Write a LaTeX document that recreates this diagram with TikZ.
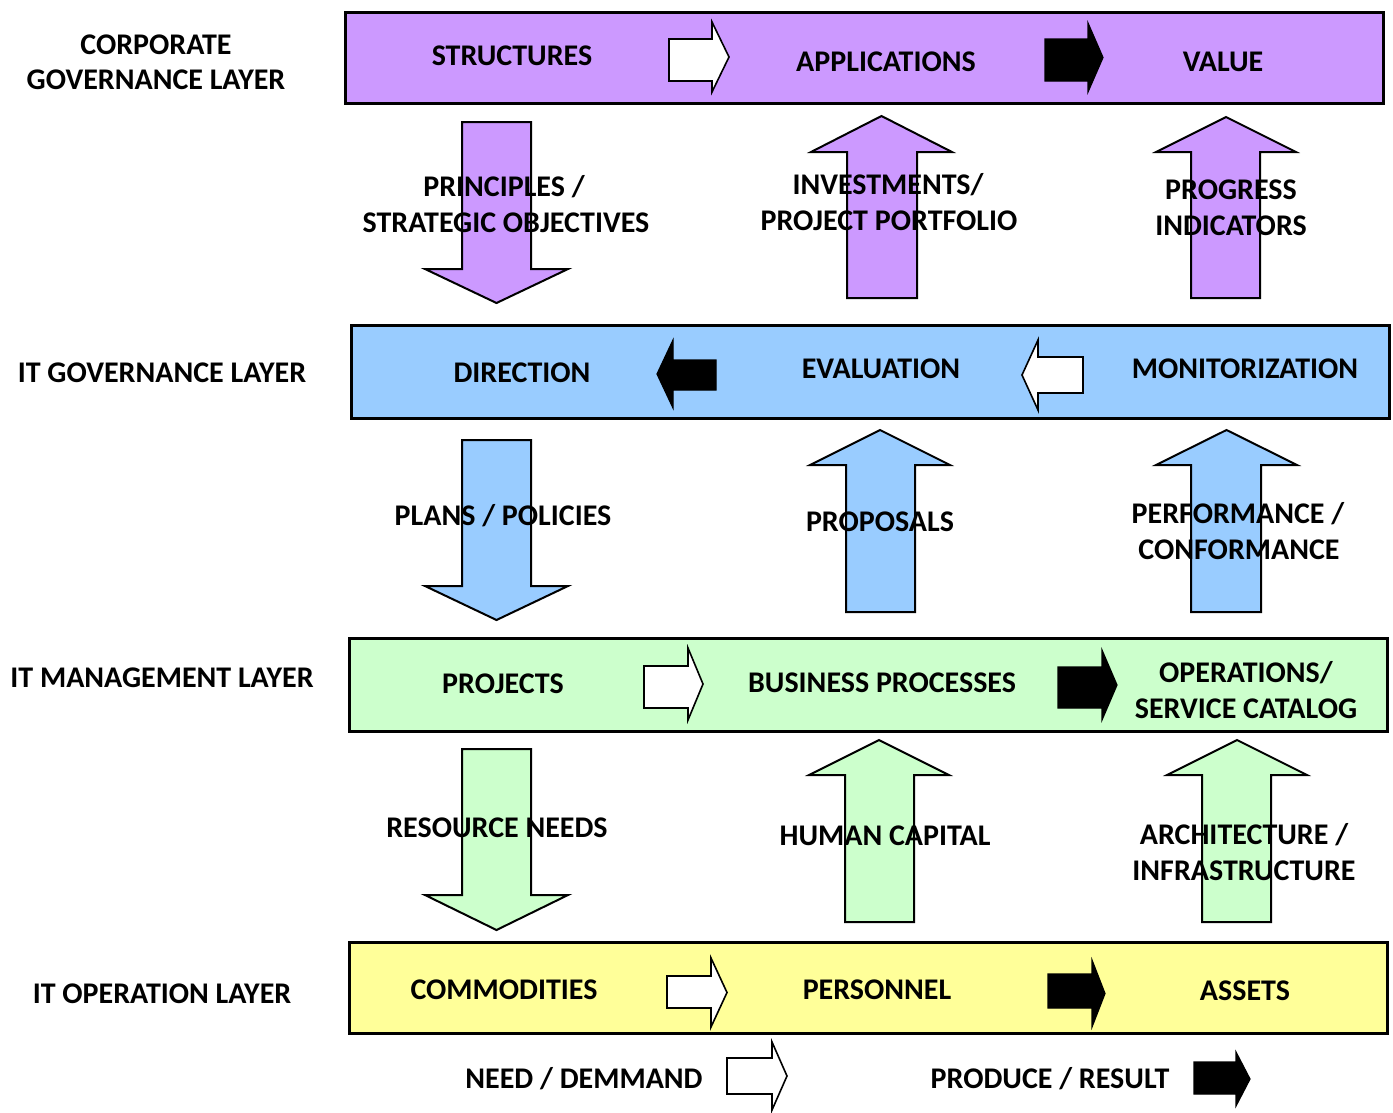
\documentclass[tikz,border=0pt]{standalone}
\usepackage{fontspec}
\setmainfont{Carlito}
\definecolor{corpfill}{HTML}{CC99FF}
\definecolor{govfill}{HTML}{99CCFF}
\definecolor{mgmtfill}{HTML}{CCFFCC}
\definecolor{opsfill}{HTML}{FFFF99}
% horizontal block arrow: style, tail x, head-base x, tip x, shaft y1, shaft y2, head y1, head y2
\newcommand{\blockh}[8]{\draw[#1] (#2,#5) -- (#3,#5) -- (#3,#7) -- (#4,{(#7+#8)/2}) -- (#3,#8) -- (#3,#6) -- (#2,#6) -- cycle;}
% vertical block arrow: style, tail y, head-base y, tip y, shaft x1, shaft x2, head x1, head x2
\newcommand{\blockv}[8]{\draw[#1] (#5,#2) -- (#5,#3) -- (#7,#3) -- ({(#7+#8)/2},#4) -- (#8,#3) -- (#6,#3) -- (#6,#2) -- cycle;}
\tikzset{
  band/.style={draw=black, line width=3pt, minimum width=1038pt, inner sep=0pt},
  lbl/.style={anchor=base, inner sep=0pt, font=\bfseries\fontsize{30}{36}\selectfont},
  whitearrow/.style={fill=white, draw=black, line width=1.6pt, line join=miter},
  blackarrow/.style={fill=black, draw=black, line width=1.2pt, line join=miter},
  corparrow/.style={fill=corpfill, draw=black, line width=2pt, line join=miter},
  govarrow/.style={fill=govfill, draw=black, line width=2pt, line join=miter},
  mgmtarrow/.style={fill=mgmtfill, draw=black, line width=2pt, line join=miter},
}
\begin{document}
\begin{tikzpicture}[x=1pt, y=-1pt]
\useasboundingbox (0,0) rectangle (1393,1112);
\fill[white] (0,0) rectangle (1393,1112);

% layer bands
\node[band, fill=corpfill, minimum height=91pt] (corp) at (864,57.5) {};
\node[band, fill=govfill,  minimum height=93pt] (gov)  at (870,371.5) {};
\node[band, fill=mgmtfill, minimum height=93pt] (mgmt) at (868,684.5) {};
\node[band, fill=opsfill,  minimum height=91pt] (ops)  at (868,987.5) {};

% arrows inside the bands
\blockh{whitearrow}{669}{712}{729}{39}{81}{22}{92}
\blockh{blackarrow}{1045}{1088}{1103}{39}{81}{23}{92}
\blockh{blackarrow}{716}{673}{657}{360}{390}{340}{408}
\blockh{whitearrow}{1083}{1038}{1022}{357}{393}{340}{410}
\blockh{whitearrow}{644}{688}{703}{666}{708}{648}{720}
\blockh{blackarrow}{1058}{1102}{1117}{667}{708}{650}{720}
\blockh{whitearrow}{667}{711}{727}{976}{1008}{958}{1027}
\blockh{blackarrow}{1048}{1092}{1105}{974}{1008}{960}{1027}

% legend arrows
\blockh{whitearrow}{727}{772}{787}{1058}{1094}{1042}{1110}
\blockh{blackarrow}{1194}{1236}{1250}{1062}{1094}{1052}{1106}

% flows between corporate and IT governance
\blockv{corparrow}{122}{269}{303}{462}{531}{425}{568}
\blockv{corparrow}{298}{152}{116}{847}{917}{811}{952}
\blockv{corparrow}{298}{152}{117}{1191}{1260}{1156}{1296}
% flows between IT governance and IT management
\blockv{govarrow}{440}{586}{620}{462}{531}{425}{568}
\blockv{govarrow}{612}{465}{430}{846}{915}{810}{950}
\blockv{govarrow}{612}{465}{430}{1191}{1261}{1156}{1297}
% flows between IT management and IT operation
\blockv{mgmtarrow}{749}{895}{930}{462}{531}{425}{568}
\blockv{mgmtarrow}{922}{775}{740}{845}{914}{809}{949}
\blockv{mgmtarrow}{922}{775}{740}{1202}{1271}{1167}{1307}

% layer names
\node[lbl] (corpname1) at (156,54.5) {CORPORATE};
\node[lbl] (corpname2) at (156,89.5) {GOVERNANCE LAYER};
\node[lbl] (govname)   at (162,382.5) {IT GOVERNANCE LAYER};
\node[lbl] (mgmtname)  at (162,687.5) {IT MANAGEMENT LAYER};
\node[lbl] (opsname)   at (162,1003.5) {IT OPERATION LAYER};

% corporate governance layer
\node[lbl] (structures)   at (512,65) {STRUCTURES};
\node[lbl] (applications) at (886,71.5) {APPLICATIONS};
\node[lbl] (value)        at (1223,71) {VALUE};

% corporate -> IT governance flows
\node[lbl] (principles1) at (504,196.5) {PRINCIPLES /};
\node[lbl] (principles2) at (506,232.5) {STRATEGIC OBJECTIVES};
\node[lbl] (invest1)     at (888,194.5) {INVESTMENTS/};
\node[lbl] (invest2)     at (889,230.5) {PROJECT PORTFOLIO};
\node[lbl] (progress1)   at (1231,199.5) {PROGRESS};
\node[lbl] (progress2)   at (1231,235.5) {INDICATORS};

% IT governance layer
\node[lbl] (direction)  at (522,382.5) {DIRECTION};
\node[lbl] (evaluation) at (881,378.5) {EVALUATION};
\node[lbl] (monitor)    at (1245,378.5) {MONITORIZATION};

% IT governance -> management flows
\node[lbl] (plans)     at (503,525.5) {PLANS / POLICIES};
\node[lbl] (proposals) at (880,531.5) {PROPOSALS};
\node[lbl] (perf1)     at (1238,523.5) {PERFORMANCE /};
\node[lbl] (perf2)     at (1239,559.5) {CONFORMANCE};

% IT management layer
\node[lbl] (projects)  at (503,693.5) {PROJECTS};
\node[lbl] (business)  at (882,692.5) {BUSINESS PROCESSES};
\node[lbl] (opsrv1)    at (1246,682.5) {OPERATIONS/};
\node[lbl] (opsrv2)    at (1246,718.5) {SERVICE CATALOG};

% IT management -> operation flows
\node[lbl] (resource) at (497,837.5) {RESOURCE NEEDS};
\node[lbl] (human)    at (885,845.5) {HUMAN CAPITAL};
\node[lbl] (arch1)    at (1244,844.5) {ARCHITECTURE /};
\node[lbl] (arch2)    at (1244,880.5) {INFRASTRUCTURE};

% IT operation layer
\node[lbl] (commodities) at (504,999.5) {COMMODITIES};
\node[lbl] (personnel)   at (877,999.5) {PERSONNEL};
\node[lbl] (assets)      at (1245,1000.5) {ASSETS};

% legend
\node[lbl] (needlbl)    at (584,1088.5) {NEED / DEMMAND};
\node[lbl] (producelbl) at (1050,1088.5) {PRODUCE / RESULT};
\end{tikzpicture}
\end{document}
